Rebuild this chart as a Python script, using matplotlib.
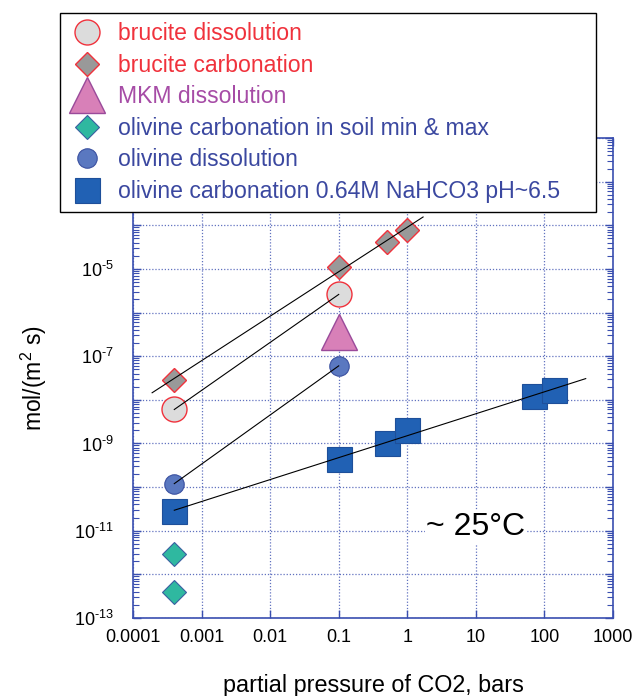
import numpy as np
import matplotlib
matplotlib.use("Agg")
import matplotlib.pyplot as plt
from matplotlib.ticker import LogLocator, FixedLocator, FixedFormatter, NullFormatter

plt.rcParams['font.family'] = ['Liberation Sans', 'DejaVu Sans']
plt.rcParams['mathtext.fontset'] = 'custom'
plt.rcParams['mathtext.rm'] = 'Liberation Sans'
plt.rcParams['mathtext.it'] = 'Liberation Sans:italic'
plt.rcParams['axes.unicode_minus'] = False

# data (pCO2 in bars, rate in mol/(m2 s))
bru_dis_x = [0.0004, 0.1]
bru_dis_y = [6e-9, 2.6e-6]
bru_carb_x = [0.0004, 0.1, 0.5, 1.0]
bru_carb_y = [2.9e-8, 1.1e-5, 4.2e-5, 8e-5]
mkm_x = [0.1]
mkm_y = [3.5e-7]
soil_x = [0.0004, 0.0004]
soil_y = [3e-12, 4e-13]
ol_dis_x = [0.0004, 0.1]
ol_dis_y = [1.2e-10, 6e-8]
ol_carb_x = [0.0004, 0.1, 0.5, 1.0, 70, 140]
ol_carb_y = [2.8e-11, 4.5e-10, 1.0e-9, 2.0e-9, 1.2e-8, 1.7e-8]

xticks = [1e-4, 1e-3, 1e-2, 0.1, 1, 10, 100, 1000]
xlabels = ['0.0001', '0.001', '0.01', '0.1', '1', '10', '100', '1000']

red = '#f0323c'
purple = '#a64ca6'
blue_txt = '#3b48a0'
axblue = '#3a4fb0'

fig = plt.figure(figsize=(6.35, 6.96), dpi=100)
ax = fig.add_axes([133/635, 1-618/696, (613-133)/635, (618-138)/696])

def fitline(x, y, x0, x1):
    p = np.polyfit(np.log10(x), np.log10(y), 1)
    xs = np.array([x0, x1])
    return xs, 10**np.polyval(p, np.log10(xs))

# fit lines (drawn above markers)
for (x, y, x0, x1) in [(bru_carb_x, bru_carb_y, 1.9e-4, 1.7),
                       (bru_dis_x, bru_dis_y, 4e-4, 0.1),
                       (ol_dis_x, ol_dis_y, 4e-4, 0.1),
                       (ol_carb_x, ol_carb_y, 4e-4, 400)]:
    lx, ly = fitline(x, y, x0, x1)
    ax.plot(lx, ly, color='black', lw=0.8, zorder=5)

ax.plot(bru_dis_x, bru_dis_y, 'o', ms=18, mfc='#dcdcdc', mec=red, mew=1.0, ls='none',
        label='brucite dissolution', zorder=3)
ax.plot(bru_carb_x, bru_carb_y, 'D', ms=12, mfc='#999999', mec=red, mew=1.0, ls='none',
        label='brucite carbonation', zorder=3)
ax.plot(mkm_x, mkm_y, '^', ms=26, mfc='#d880b8', mec='#9a4a9a', mew=1.0, ls='none',
        label='MKM dissolution', zorder=3)
ax.plot(soil_x, soil_y, 'D', ms=12, mfc='#2fb8a0', mec='#3a5fa0', mew=0.8, ls='none',
        label='olivine carbonation in soil min & max', zorder=3)
ax.plot(ol_dis_x, ol_dis_y, 'o', ms=14, mfc='#5a78c0', mec='#3a50a0', mew=0.8, ls='none',
        label='olivine dissolution', zorder=3)
ax.plot(ol_carb_x, ol_carb_y, 's', ms=18, mfc='#2161b4', mec='#1e4f9a', mew=0.8, ls='none',
        label='olivine carbonation 0.64M NaHCO3 pH~6.5', zorder=3)

ax.set_xscale('log')
ax.set_yscale('log')
ax.set_xlim(1e-4, 1000)
ax.set_ylim(1e-13, 1e-2)

ax.xaxis.set_major_locator(FixedLocator(xticks))
ax.xaxis.set_major_formatter(FixedFormatter(xlabels))
ax.xaxis.set_minor_locator(FixedLocator([]))

yt = [10.0**e for e in range(-13, -1)]
ax.yaxis.set_major_locator(FixedLocator(yt))
ax.yaxis.set_major_formatter(FixedFormatter(
    [r'$10^{\text{%d}}$' % e if e % 2 else '' for e in range(-13, -1)]))
ax.yaxis.set_minor_locator(LogLocator(base=10, subs=np.arange(2, 10), numticks=50))
ax.yaxis.set_minor_formatter(NullFormatter())

ax.grid(True, which='major', color=axblue, ls=(0, (1, 1.5)), lw=0.9, alpha=0.8)
for s in ax.spines.values():
    s.set_color(axblue)
    s.set_linewidth(1.2)
ax.tick_params(which='both', direction='in', top=True, right=True, color=axblue)
ax.tick_params(which='major', length=6, width=1.0, labelsize=13)
ax.tick_params(axis='x', which='major', pad=8)
ax.tick_params(axis='y', which='major', pad=14)
ax.tick_params(which='minor', length=4, width=0.8)

ax.set_xlabel('partial pressure of CO2, bars', fontsize=16.8, labelpad=20)
ax.set_ylabel('mol/(m$^2$ s)', fontsize=16.5, labelpad=18)

ax.text(10, 1.2e-11, '~ 25°C', fontsize=23, ha='center', va='center', zorder=6,
        bbox=dict(facecolor='white', edgecolor='none', pad=1))

leg = fig.legend(loc='upper left', bbox_to_anchor=(60/635, 1-210/696, 536/635, 197/696),
                 mode='expand', fontsize=16.6,
                 frameon=True, fancybox=False, framealpha=1, edgecolor='black',
                 handletextpad=0.6, labelspacing=0.37, borderpad=0.4, markerscale=1.0,
                 handlelength=1.5, borderaxespad=0)
leg.get_frame().set_linewidth(1.0)
leg.set_zorder(10)
tcols = [red, red, purple, blue_txt, blue_txt, blue_txt]
for t, c in zip(leg.get_texts(), tcols):
    t.set_color(c)

fig.savefig('out.png', dpi=100)
